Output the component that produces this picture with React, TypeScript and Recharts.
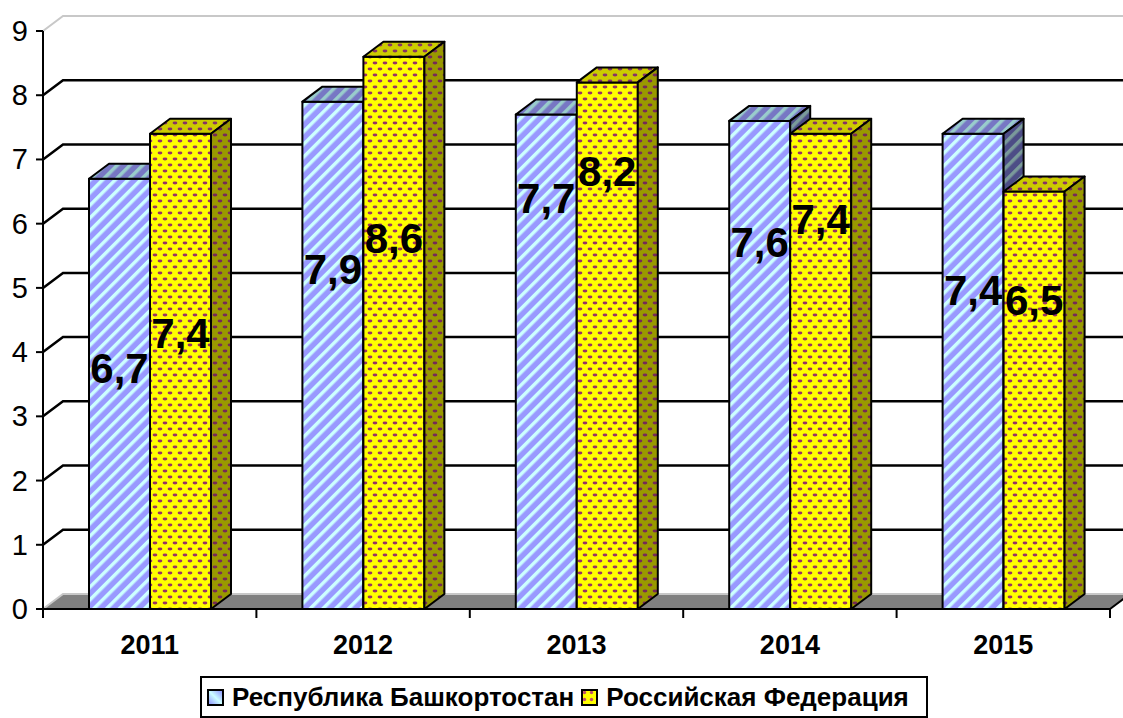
import React from 'react';
import {
    BarChart,
    Bar,
    XAxis,
    YAxis,
    CartesianGrid,
    Legend,
    LabelList,
} from 'recharts';

const YEARS = ['2011', '2012', '2013', '2014', '2015'];
const BASHKORTOSTAN = [6.7, 7.9, 7.7, 7.6, 7.4];
const RUSSIA = [7.4, 8.6, 8.2, 7.4, 6.5];
const Y_TICKS = [0, 1, 2, 3, 4, 5, 6, 7, 8, 9];

const SERIES_RB = 'Республика Башкортостан';
const SERIES_RF = 'Российская Федерация';

// where the value labels sit, as a share of the bar height (hand placed in the original)
const LABEL_FRAC_RB = [0.56, 0.67, 0.83, 0.75, 0.67];
const LABEL_FRAC_RF = [0.58, 0.67, 0.83, 0.82, 0.74];

const W = 1123;
const H = 718;
const MARGIN_TOP = 31;
const MARGIN_RIGHT = 13;
const Y_AXIS_W = 43;
const X_AXIS_H = 109;
const PLOT_LEFT = Y_AXIS_W;
const PLOT_RIGHT = W - MARGIN_RIGHT;
const PLOT_BOTTOM = H - X_AXIS_H;
const BAND = (PLOT_RIGHT - PLOT_LEFT) / YEARS.length;

// 3d depth of the Excel style chart
const DX = 20;
const DY = 15;

const FONT = '"Liberation Sans", Arial, Helvetica, sans-serif';

const chartData = YEARS.map((year, i) => ({
    year,
    rb: BASHKORTOSTAN[i],
    rf: RUSSIA[i],
}));

const fmt = (v: number) => String(v).replace('.', ',');

const Bar3D = (props: any) => {
    const { x, y, width, height, front, top, side } = props;
    if (x == null || !height) return null;
    const r = x + width;
    const b = y + height;
    return (
        <g stroke="#000" strokeWidth={2} strokeLinejoin="round">
            <rect x={x} y={y} width={width} height={height} fill={front} />
            <polygon
                points={`${x},${y} ${x + DX},${y - DY} ${r + DX},${y - DY} ${r},${y}`}
                fill={top}
            />
            <polygon
                points={`${r},${y} ${r + DX},${y - DY} ${r + DX},${b - DY} ${r},${b}`}
                fill={side}
            />
        </g>
    );
};

const makeLabel = (fracs: number[]) => (props: any) => {
    const vb = props.viewBox || props;
    const x = vb.x ?? props.x;
    const y = vb.y ?? props.y;
    const width = vb.width ?? props.width;
    const height = vb.height ?? props.height;
    const idx = props.index ?? 0;
    const f = fracs[idx] ?? 0.6;
    const cy = y + height * (1 - f);
    return (
        <text
            x={x + width / 2}
            y={cy}
            textAnchor="middle"
            dominantBaseline="central"
            fontFamily={FONT}
            fontWeight="bold"
            fontSize={42}
            fill="#000"
        >
            {fmt(props.value)}
        </text>
    );
};

// gridlines live on the back wall, with a short diagonal from the axis
const GridLine = (props: any) => {
    const { x1, x2, y1 } = props;
    const isTop = Math.abs(y1 - MARGIN_TOP) < 1;
    const isBottom = Math.abs(y1 - PLOT_BOTTOM) < 1;
    if (isBottom) {
        return (
            <g>
                <polygon
                    points={`${x1},${y1} ${x1 + DX},${y1 - DY} ${x2 + DX},${y1 - DY} ${x2},${y1}`}
                    fill="#808080"
                    stroke="none"
                />
                <polyline
                    points={`${x1},${y1} ${x1 + DX},${y1 - DY} ${x2 + DX},${y1 - DY}`}
                    fill="none"
                    stroke="#c8c8c8"
                    strokeWidth={2}
                />
                <line x1={x2} y1={y1} x2={x2 + DX} y2={y1 - DY} stroke="#000" strokeWidth={2} />
            </g>
        );
    }
    const color = isTop ? '#c8c8c8' : '#000';
    return (
        <polyline
            points={`${x1},${y1} ${x1 + DX},${y1 - DY} ${x2 + DX},${y1 - DY}`}
            fill="none"
            stroke={color}
            strokeWidth={isTop ? 2 : 2.5}
        />
    );
};

const XTick = (props: any) => {
    const { x, y, payload, index } = props;
    const last = index === YEARS.length - 1;
    return (
        <g>
            <line x1={x - BAND / 2} y1={y - 9} x2={x - BAND / 2} y2={y} stroke="#000" strokeWidth={2} />
            {last && (
                <line x1={x + BAND / 2} y1={y - 9} x2={x + BAND / 2} y2={y} stroke="#000" strokeWidth={2} />
            )}
            <text
                x={x}
                y={y + 36}
                textAnchor="middle"
                fontFamily={FONT}
                fontWeight="bold"
                fontSize={27}
                fill="#000"
            >
                {payload.value}
            </text>
        </g>
    );
};

const YTick = (props: any) => {
    const { x, y, payload } = props;
    return (
        <text
            x={x}
            y={y}
            textAnchor="end"
            dominantBaseline="central"
            fontFamily={FONT}
            fontSize={29}
            fill="#000"
        >
            {payload.value}
        </text>
    );
};

const Swatch = ({ fill }: { fill: string }) => (
    <svg width={17} height={17} style={{ display: 'block', flex: 'none' }}>
        <rect x={1} y={1} width={15} height={15} fill={fill} stroke="#000" strokeWidth={2} />
    </svg>
);

const LegendBox = () => (
    <div
        style={{
            width: 728,
            height: 42,
            boxSizing: 'border-box',
            border: '2px solid #000',
            background: '#fff',
            display: 'flex',
            alignItems: 'center',
            paddingLeft: 5,
            fontFamily: FONT,
            fontWeight: 'bold',
            fontSize: 26,
            color: '#000',
            whiteSpace: 'nowrap',
        }}
    >
        <Swatch fill="url(#rbLegend)" />
        <span style={{ marginLeft: 8 }}>{SERIES_RB}</span>
        <span style={{ width: 7 }} />
        <Swatch fill="url(#rfLegend)" />
        <span style={{ marginLeft: 8 }}>{SERIES_RF}</span>
    </div>
);

const dotRow = (fill: string) => (
    <>
        <ellipse cx={5} cy={3} rx={2.4} ry={1.4} fill={fill} />
        <ellipse cx={0} cy={9} rx={2.4} ry={1.4} fill={fill} />
        <ellipse cx={10} cy={9} rx={2.4} ry={1.4} fill={fill} />
    </>
);

export default function App() {
    return (
        <div style={{ position: 'absolute', left: 0, top: 0, width: W, height: H, background: '#fff' }}>
            <BarChart
                width={W}
                height={H}
                data={chartData}
                margin={{ top: MARGIN_TOP, right: MARGIN_RIGHT, left: 0, bottom: 0 }}
                barSize={61}
                barGap={0}
            >
                <defs>
                    <pattern id="rbFront" patternUnits="userSpaceOnUse" width={9} height={9} patternTransform="rotate(45)">
                        <rect width={9} height={9} fill="#9999ff" />
                        <rect width={3.5} height={9} fill="#ccffff" />
                    </pattern>
                    <pattern id="rbTop" patternUnits="userSpaceOnUse" width={9} height={9} patternTransform="rotate(45)">
                        <rect width={9} height={9} fill="#7777c4" />
                        <rect width={3.5} height={9} fill="#99cccc" />
                    </pattern>
                    <pattern id="rbSide" patternUnits="userSpaceOnUse" width={9} height={9} patternTransform="rotate(45)">
                        <rect width={9} height={9} fill="#4d4d86" />
                        <rect width={3.5} height={9} fill="#7a9a9a" />
                    </pattern>
                    <pattern id="rfFront" patternUnits="userSpaceOnUse" width={10} height={12}>
                        <rect width={10} height={12} fill="#ffff00" />
                        {dotRow('#993366')}
                    </pattern>
                    <pattern id="rfTop" patternUnits="userSpaceOnUse" width={10} height={12}>
                        <rect width={10} height={12} fill="#cccc00" />
                        {dotRow('#883366')}
                    </pattern>
                    <pattern id="rfSide" patternUnits="userSpaceOnUse" width={10} height={12}>
                        <rect width={10} height={12} fill="#999900" />
                        {dotRow('#772a58')}
                    </pattern>
                    <linearGradient id="rbLegend" x1="0" y1="1" x2="1" y2="0">
                        <stop offset="0%" stopColor="#8888ff" />
                        <stop offset="50%" stopColor="#ccffff" />
                        <stop offset="100%" stopColor="#8888ff" />
                    </linearGradient>
                    <pattern id="rfLegend" patternUnits="userSpaceOnUse" width={7} height={7}>
                        <rect width={7} height={7} fill="#ffff00" />
                        <circle cx={3.5} cy={3.5} r={1.7} fill="#c0506a" />
                    </pattern>
                </defs>
                <CartesianGrid vertical={false} horizontal={(p: any) => <GridLine {...p} />} />
                <XAxis
                    dataKey="year"
                    height={X_AXIS_H}
                    axisLine={{ stroke: '#000', strokeWidth: 2 }}
                    tickLine={false}
                    tickSize={9}
                    tickMargin={0}
                    interval={0}
                    tick={<XTick />}
                />
                <YAxis
                    width={Y_AXIS_W}
                    domain={[0, 9]}
                    ticks={Y_TICKS}
                    interval={0}
                    axisLine={{ stroke: '#000', strokeWidth: 2 }}
                    tickLine={{ stroke: '#000', strokeWidth: 2 }}
                    tickSize={7}
                    tickMargin={8}
                    tick={<YTick />}
                />
                <Legend
                    layout="horizontal"
                    verticalAlign="middle"
                    align="center"
                    wrapperStyle={{ top: 676, left: 200, width: 728, right: 'auto', bottom: 'auto' }}
                    content={() => <LegendBox />}
                />
                <Bar
                    dataKey="rb"
                    name={SERIES_RB}
                    isAnimationActive={false}
                    shape={(p: any) => <Bar3D {...p} front="url(#rbFront)" top="url(#rbTop)" side="url(#rbSide)" />}
                >
                    <LabelList dataKey="rb" content={makeLabel(LABEL_FRAC_RB)} />
                </Bar>
                <Bar
                    dataKey="rf"
                    name={SERIES_RF}
                    isAnimationActive={false}
                    shape={(p: any) => <Bar3D {...p} front="url(#rfFront)" top="url(#rfTop)" side="url(#rfSide)" />}
                >
                    <LabelList dataKey="rf" content={makeLabel(LABEL_FRAC_RF)} />
                </Bar>
            </BarChart>
        </div>
    );
}
